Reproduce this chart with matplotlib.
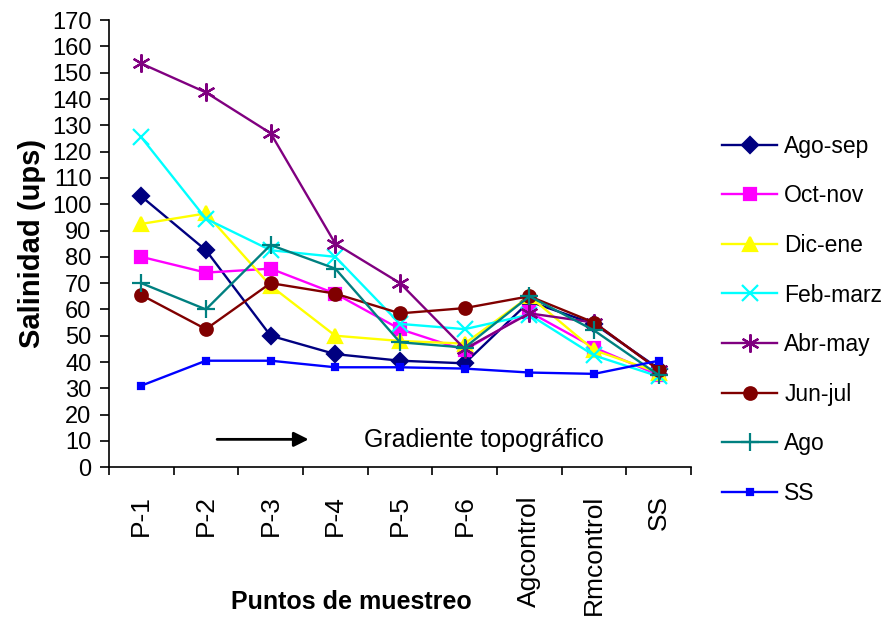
import matplotlib

matplotlib.use("Agg")
import matplotlib.pyplot as plt

plt.rcParams["font.family"] = ["Liberation Sans", "DejaVu Sans"]

POINTS = ["P-1", "P-2", "P-3", "P-4", "P-5", "P-6", "Agcontrol", "Rmcontrol", "SS"]
SERIES = ["Ago-sep", "Oct-nov", "Dic-ene", "Feb-marz", "Abr-may", "Jun-jul", "Ago", "SS"]

ago_sep = [103, 82.5, 50, 43, 40.5, 39.5, 63, 54.5, 37.5]
oct_nov = [80, 74, 75.5, 66, 52.5, 44.5, 59, 45.5, 35]
dic_ene = [92.5, 96.5, 69, 50, 48, 47, 65, 44.5, 36]
feb_marz = [125.5, 94.5, 82.5, 80, 54.5, 52.5, 58, 42.5, 34.5]
abr_may = [153.5, 142.5, 127, 85, 70, 45, 58.5, 55, 37]
jun_jul = [65.5, 52.5, 70, 66, 58.5, 60.5, 65, 55, 37]
ago = [70, 60, 84.5, 75.5, 47.5, 45.5, 65, 52, 35]
ss = [31, 40.5, 40.5, 38, 38, 37.5, 36, 35.5, 40.5]

VALUES = [ago_sep, oct_nov, dic_ene, feb_marz, abr_may, jun_jul, ago, ss]
COLORS = ["#000080", "#FF00FF", "#FFFF00", "#00FFFF", "#800080", "#800000", "#008080", "#0000FF"]
MARKERS = ["D", "s", "^", "x", (6, 2, 0), "o", "+", "s"]
MSIZES = [8, 8, 10, 11, 13, 9, 13, 4]

fig = plt.figure(figsize=(8.85, 6.28), dpi=100)
ax = fig.add_axes([0.123, 0.256, 0.658, 0.712])

x = list(range(len(POINTS)))
for name, vals, c, m, ms in zip(SERIES, VALUES, COLORS, MARKERS, MSIZES):
    ax.plot(x, vals, color=c, lw=1.7, marker=m, ms=ms, mew=1.6,
            mec=c, mfc=c, label=name)

ax.set_xlim(-0.5, len(POINTS) - 0.5)
ax.set_ylim(0, 170)
ax.set_yticks(range(0, 171, 10))
ax.set_xticks(x)
ax.set_xticklabels(POINTS, rotation=90, fontsize=19)
ax.set_xticks([i - 0.5 for i in range(len(POINTS) + 1)], minor=True)
ax.tick_params(axis="x", which="major", length=0, pad=20)
ax.tick_params(axis="x", which="minor", length=6, width=1.2)
ax.tick_params(axis="y", length=6.5, width=1.2, pad=6, labelsize=17)
for s in ("top", "right"):
    ax.spines[s].set_visible(False)
for s in ("left", "bottom"):
    ax.spines[s].set_linewidth(1.2)

ax.set_ylabel("Salinidad (ups)", fontsize=21, fontweight="bold", labelpad=4)
fig.text(0.397, 0.042, "Puntos de muestreo", fontsize=18, fontweight="bold",
         ha="center", va="center")

# gradient arrow and caption
ax.annotate("", xy=(2.63, 10.6), xytext=(1.13, 10.6),
            arrowprops=dict(arrowstyle="-|>", color="black", lw=2,
                            mutation_scale=22))
ax.text(3.45, 10.3, "Gradiente topográfico", fontsize=18, va="center", ha="left")

ax.legend(loc="upper left", bbox_to_anchor=(0.806, 0.80), bbox_transform=fig.transFigure,
          frameon=False, fontsize=16.5, handlelength=2.4, handletextpad=0.3,
          labelspacing=1.16, borderaxespad=0)

fig.savefig("out.png", dpi=100)
